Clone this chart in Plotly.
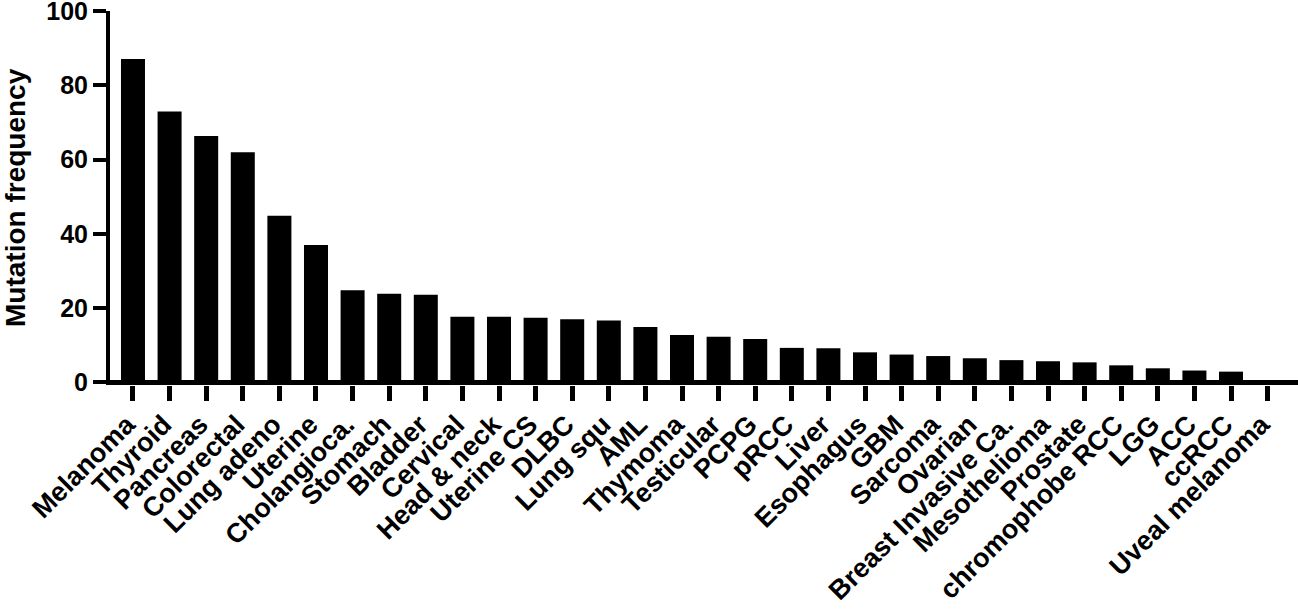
import plotly.graph_objects as go

categories = ["Melanoma", "Thyroid", "Pancreas", "Colorectal", "Lung adeno", "Uterine",
              "Cholangioca.", "Stomach", "Bladder", "Cervical", "Head & neck", "Uterine CS",
              "DLBC", "Lung squ", "AML", "Thymoma", "Testicular", "PCPG", "pRCC", "Liver",
              "Esophagus", "GBM", "Sarcoma", "Ovarian", "Breast Invasive Ca.", "Mesothelioma",
              "Prostate", "chromophobe RCC", "LGG", "ACC", "ccRCC", "Uveal melanoma"]
values = [87.1, 73.0, 66.4, 62.0, 44.9, 37.0,
          24.8, 23.9, 23.6, 17.7, 17.7, 17.4,
          17.0, 16.7, 14.9, 12.8, 12.3, 11.7, 9.3, 9.2,
          8.1, 7.5, 7.1, 6.5, 6.0, 5.7,
          5.4, 4.6, 3.8, 3.2, 2.9, 0.0]
y_ticks = [0, 20, 40, 60, 80, 100]
y_title = "Mutation frequency"

FONT = "Arial, 'Liberation Sans', sans-serif"
W, H = 1298, 609
ML, MR, MT, MB = 110, 0, 11, 224

fig = go.Figure(go.Bar(x=categories, y=values, marker=dict(color="black", line=dict(width=0))))

fig.update_layout(
    width=W, height=H,
    margin=dict(l=ML, r=MR, t=MT, b=MB, autoexpand=False),
    paper_bgcolor="white", plot_bgcolor="white",
    bargap=0.344,
    showlegend=False,
    font=dict(family=FONT, color="black"),
)
fig.update_xaxes(
    type="category", range=[-0.628, 31.83],
    showline=False, automargin=False,
    ticks="outside", ticklen=15, tickwidth=5, tickcolor="black",
    tickangle=-45, ticklabelstandoff=-3, ticklabelshift=-6, ticklabeloverflow="allow",
    tickfont=dict(family=FONT, size=27, color="black", weight="bold"),
    showgrid=False, zeroline=False,
)
fig.update_yaxes(
    range=[-0.7, 100.05], tickvals=y_ticks, automargin=False,
    showline=True, linecolor="black", linewidth=4,
    ticks="outside", ticklen=13, tickwidth=4, tickcolor="black",
    ticklabeloverflow="allow",
    tickfont=dict(family=FONT, size=25, color="black", weight="bold"),
    showgrid=False,
    zeroline=True, zerolinecolor="black", zerolinewidth=5,
)

# rotated y-axis title placed by pixel position
fig.add_annotation(
    text=y_title, textangle=-90, showarrow=False,
    xref="paper", yref="paper",
    x=(15 - ML) / (W - ML - MR), y=0.5, xanchor="center", yanchor="middle",
    font=dict(family=FONT, size=28, color="black", weight="bold"),
)

fig.write_html("out.html", config={"displayModeBar": False},
               post_script="document.body.style.margin='0px';document.body.style.overflow='hidden';")
